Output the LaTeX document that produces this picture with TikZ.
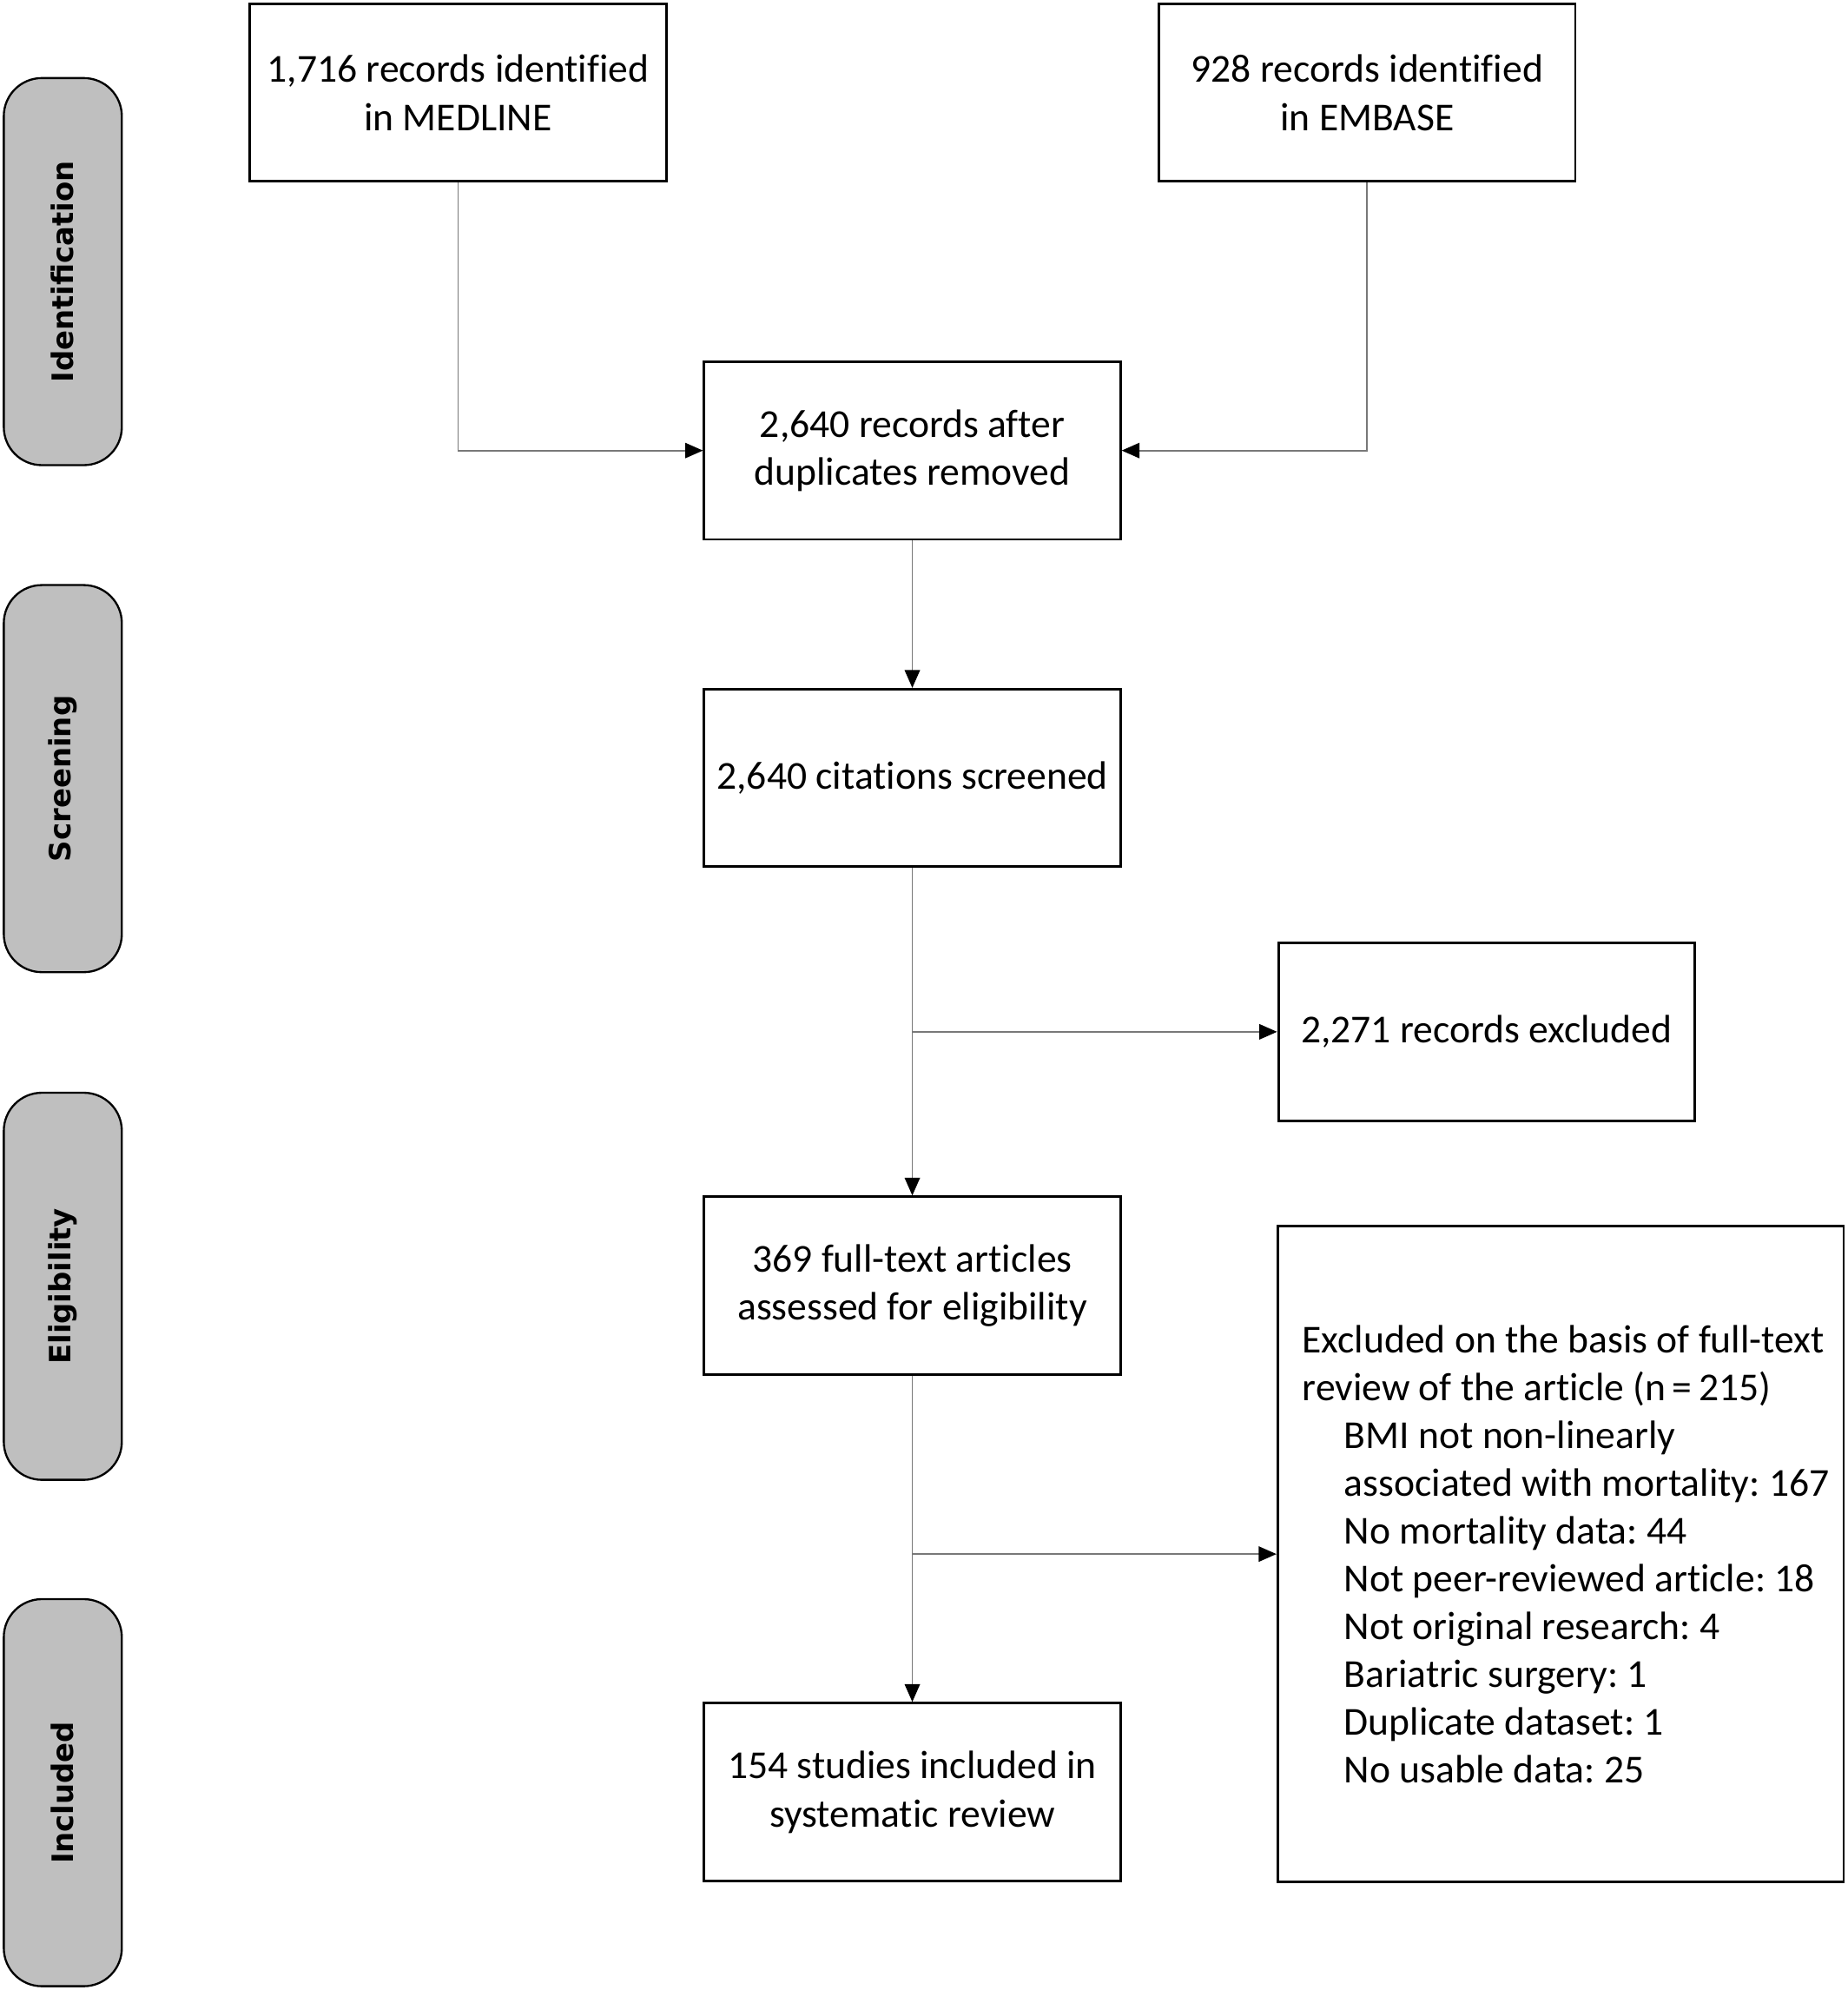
\documentclass[tikz,border=0pt]{standalone}
\usepackage{fontspec}
\setmainfont[Ligatures=NoCommon]{Carlito}
\newfontfamily\pillfont{DejaVu Sans}
\usetikzlibrary{arrows.meta}
\definecolor{pillgray}{RGB}{191,191,191}
\definecolor{linegray}{RGB}{120,120,120}
\frenchspacing
\begin{document}
\begin{tikzpicture}[x=0.5pt,y=-0.5pt,
  box/.style={draw=black, line width=1pt, minimum width=164pt, minimum height=70pt,
    align=center, inner sep=0pt, font=\fontsize{15.6}{19}\selectfont},
  pill/.style={draw=black, line width=0.8pt, fill=pillgray, rounded corners=15pt,
    rotate=90, minimum width=152.5pt, minimum height=46.5pt, inner sep=0pt,
    font=\pillfont\bfseries\fontsize{11.6}{13}\selectfont},
  conn/.style={draw=linegray, line width=0.6pt, -{Triangle[length=7pt,width=6pt,color=black,fill=black]}},
  plain/.style={draw=linegray, line width=0.6pt}
]
\useasboundingbox (0,0) rectangle (1456,1568);

% phase pills
\node[pill] (pid) at (49.5,214) {Identification};
\node[pill] (pscr) at (49.5,613.5) {Screening};
\node[pill] (pel) at (49.5,1013.5) {Eligibility};
\node[pill] (pinc) at (49.5,1412.5) {Included};

% boxes
\node[box] (medline) at (361,73) {1,716 records identified\\in MEDLINE};
\node[box] (embase) at (1077.5,73) {928 records identified\\in EMBASE};
\node[box] (dup) at (719,355) {2,640 records after\\duplicates removed};
\node[box] (cit) at (719,613) {2,640 citations screened};
\node[box] (rex) at (1171.5,813) {2,271 records excluded};
\node[box] (ft) at (719,1013) {369 full-text articles\\assessed for eligibility};
\node[box] (inc) at (719,1412) {154 studies included in\\systematic review};
\node[draw=black, line width=1pt, minimum width=223pt, minimum height=258.5pt, inner sep=0pt] (exc) at (1230,1224.5) {};
\node[anchor=west, align=left, inner sep=0pt, font=\fontsize{15.6}{18.8}\selectfont] (exctext) at ([xshift=10pt]exc.west)
  {Excluded on the basis of full-text\\
   review of the article (n\,=\,215)\\
   \hspace*{16.5pt}BMI not non-linearly\\
   \hspace*{16.5pt}associated with mortality: 167\\
   \hspace*{16.5pt}No mortality data: 44\\
   \hspace*{16.5pt}Not peer-reviewed article: 18\\
   \hspace*{16.5pt}Not original research: 4\\
   \hspace*{16.5pt}Bariatric surgery: 1\\
   \hspace*{16.5pt}Duplicate dataset: 1\\
   \hspace*{16.5pt}No usable data: 25};

% connectors
\draw[conn] (medline.south) |- (dup.west);
\draw[conn] (embase.south) |- (dup.east);
\draw[conn] (dup.south) -- (cit.north);
\draw[conn] (cit.south) -- (ft.north);
\coordinate (b1) at (cit.south |- rex.west);
\draw[conn] (b1) -- (rex.west);
\draw[conn] (ft.south) -- (inc.north);
\coordinate (b2) at (ft.south |- exc.west);
\draw[conn] (b2) -- (exc.west);
\end{tikzpicture}
\end{document}
